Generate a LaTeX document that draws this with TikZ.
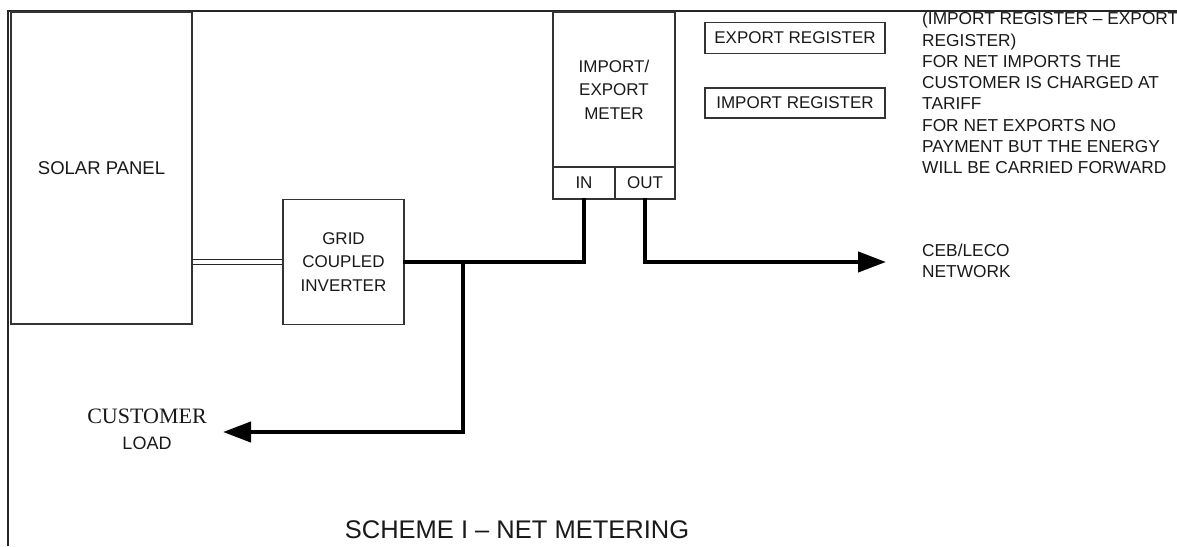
\documentclass[tikz,border=0pt]{standalone}
\usepackage{fontspec}
\setmainfont{Liberation Sans}
\newfontfamily\serifload{Liberation Serif}
\usepackage{tikz}
\usetikzlibrary{arrows.meta,positioning,calc}
\tikzset{
  blk/.style={draw=black!80, line width=1.3pt, align=center, text=black!90,
    font=\fontsize{17}{23.5}\selectfont, inner sep=0pt},
  lbl/.style={align=left, text=black!90, font=\fontsize{17.3}{21.3}\selectfont, inner sep=0pt},
  feed/.style={line width=4.2pt, line cap=rect},
  tip/.style={-{Triangle[length=28pt,width=20pt]}},
  frame/.style={line width=2.5pt, black!85},
}
\begin{document}
\begin{tikzpicture}[x=1pt,y=-1pt]
  \useasboundingbox (0,0) rectangle (1177,546);
  \draw[frame] (8,546) -- (8,11) -- (1177,11);
  % boxes
  \node[blk, minimum width=181pt, minimum height=312pt] (panel) at (101.5,168) {\fontsize{18.5}{22}\selectfont SOLAR PANEL};
  \node[blk, minimum width=121pt, minimum height=125pt] (inv) at (343.5,262) {GRID\\COUPLED\\INVERTER};
  \node[blk, minimum width=122pt, minimum height=155pt] (meter) at (614,89.5) {IMPORT/\\EXPORT\\METER};
  \node[blk, minimum width=62pt, minimum height=32pt] (inport) at (584,183) {IN};
  \node[blk, minimum width=60pt, minimum height=32pt] (outport) at (645,183) {OUT};
  \node[blk, minimum width=180pt, minimum height=31pt] (expreg) at (795,38) {EXPORT REGISTER};
  \node[blk, minimum width=180pt, minimum height=30pt] (impreg) at (795,103) {IMPORT REGISTER};
  % texts
  \node[lbl, anchor=north west] (note) at (922,12) {(IMPORT REGISTER -- EXPORT\\REGISTER)\\FOR NET IMPORTS THE\\CUSTOMER IS CHARGED AT\\TARIFF\\FOR NET EXPORTS NO\\PAYMENT BUT THE ENERGY\\WILL BE CARRIED FORWARD};
  \node[lbl, anchor=west] (ceb) at (922,261) {CEB/LECO\\NETWORK};
  \node[align=center, text=black!90, inner sep=0pt, font=\fontsize{18}{26}\selectfont] (load) at (147,429)
    {{\serifload\fontsize{22}{26}\selectfont CUSTOMER}\\LOAD};
  \node[text=black!90, font=\fontsize{25.5}{30}\selectfont, inner sep=0pt] (title) at (517,530) {SCHEME I -- NET METERING};
  % connectors
  \coordinate (tee) at (463,262);
  \coordinate (teefoot) at (463,432);
  \coordinate (loadtip) at (223,432);
  \coordinate (cebtip) at (886,262);
  \draw[double=white, double distance=3.5pt, line width=1.5pt, black!85] (inv.west) -- (inv.west -| panel.east);
  \draw[feed] (inv.east) -- (inv.east -| inport.south) -- (inport.south);
  \draw[feed] (tee) -- (teefoot);
  \draw[feed, tip] (teefoot) -- (loadtip);
  \draw[feed, tip] (outport.south) |- (cebtip);
\end{tikzpicture}
\end{document}
